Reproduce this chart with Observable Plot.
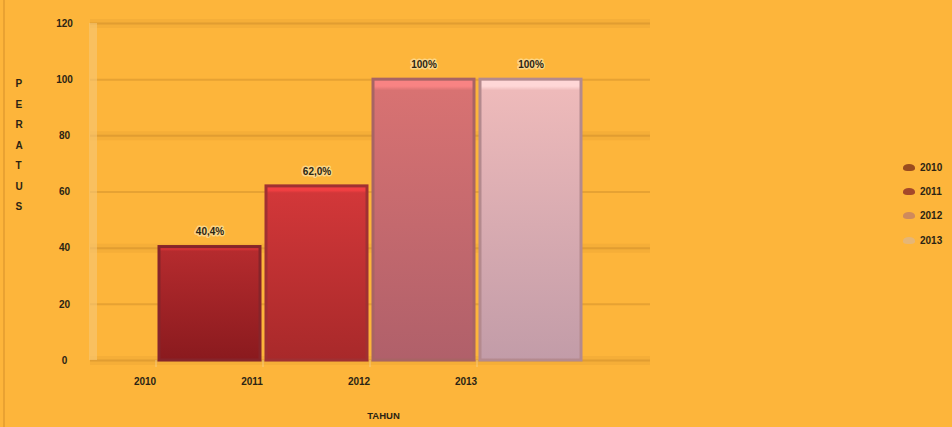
<!DOCTYPE html>
<html>
<head>
<meta charset="utf-8">
<script src="https://cdn.jsdelivr.net/npm/d3@7"></script>
<script src="https://cdn.jsdelivr.net/npm/@observablehq/plot@0.6"></script>
<style>
  html, body { margin: 0; padding: 0; background: #fdb53b; }
  #wrap { position: relative; width: 952px; height: 427px; overflow: hidden; background: #fdb53b; }
  #edge { position: absolute; left: 3px; top: 0; width: 2px; height: 427px; background: #e9a232; }
  #legend { position: absolute; left: 903px; top: 155px; font: 600 10px "Liberation Sans", Arial, sans-serif; color: #2b2414; }
  #legend .item { display: flex; align-items: center; height: 24.3px; white-space: nowrap; }
  #legend .sw { display: inline-block; width: 12px; height: 7px; border-radius: 50% 50% 35% 35%; margin-right: 5px; }
</style>
</head>
<body>
<div id="wrap"><div id="edge"></div></div>
<script>
// ---- data ----
const years = ["2010", "2011", "2012", "2013"];
const values = [40.4, 62.0, 100, 100];
const valueLabels = ["40,4%", "62,0%", "100%", "100%"];
const yTicks = [0, 20, 40, 60, 80, 100, 120];
const yTitle = "PERATUS";
const xTitle = "TAHUN";

// ---- styles ----
const barTop = ["#b52b2e", "#d23739", "#d87272", "#eebaba"];
const barBottom = ["#8a1a1e", "#a8292a", "#b0606a", "#c29ca8"];
const barEdge = ["#86242a", "#a03032", "#a86464", "#b48a8e"];
const legendColors = ["#9a4c1e", "#a4482a", "#cf8a5c", "#e6b676"];

const data = years.map((y, i) => ({year: y, value: values[i], label: valueLabels[i], i}));

const marks = [
  Plot.gridY(yTicks.filter((d, i) => i % 2 === 0), {stroke: "#c98a2a", strokeOpacity: 0.14, strokeWidth: 9}),
  Plot.gridY(yTicks, {stroke: "#b87a22", strokeOpacity: 0.32, strokeWidth: 2}),
  Plot.ruleX([years[0]], {x: d => d, y1: 0, y2: 120, dx: -117, stroke: "#f6c878", strokeWidth: 8, strokeOpacity: 0.6}),
  Plot.axisY({ticks: yTicks, tickSize: 0, tickPadding: 26, textAnchor: "middle", label: null,
    fontSize: 10, fontWeight: 600, fill: "#2b2414"}),
  Plot.axisX({tickSize: 0, tickPadding: 17, dx: -65, label: null, fontSize: 10, fontWeight: 600, fill: "#2b2414"}),
  Plot.axisX({tickSize: 7, text: null, dx: -54, label: null, stroke: "#f3d49a", strokeOpacity: 0.7}),
  ...data.map(d => Plot.barY([d], {x: "year", y: "value", fill: `url(#bg${d.i})`,
    stroke: barEdge[d.i], strokeWidth: 3})),
  Plot.text(data, {x: "year", y: "value", text: "label", dy: -15, fontSize: 10, fontWeight: 700,
    fill: "#2b2414", stroke: "#fcd585", strokeWidth: 3}),
  Plot.text([yTitle.split("").join("\n")], {frameAnchor: "left", dx: -75, dy: -50, lineHeight: 2.05,
    fontSize: 10, fontWeight: 700, fill: "#2b2414"}),
  Plot.text([xTitle], {frameAnchor: "bottom", dx: 13, dy: 58, fontSize: 9.5, fontWeight: 600,
    fill: "#2b2414", letterSpacing: "0.5px"})
];

const chart = Plot.plot({
  width: 952,
  height: 427,
  marginTop: 23,
  marginBottom: 67,
  marginLeft: 90,
  marginRight: 302,
  style: {background: "#fdb53b", fontFamily: "'Liberation Sans', Arial, sans-serif"},
  x: {type: "band", domain: years, range: [150.5, 588.2], padding: 0.06, label: null},
  y: {domain: [0, 120], label: null},
  marks
});

// gradients for the bars
const svg = d3.select(chart);
const defs = svg.insert("defs", ":first-child");
years.forEach((y, i) => {
  const g = defs.append("linearGradient").attr("id", `bg${i}`).attr("x1", 0).attr("y1", 0).attr("x2", 0).attr("y2", 1);
  g.append("stop").attr("offset", "0%").attr("stop-color", d3.color(barTop[i]).brighter(0.4));
  g.append("stop").attr("offset", "2.5%").attr("stop-color", d3.color(barTop[i]).brighter(0.4));
  g.append("stop").attr("offset", "4%").attr("stop-color", barTop[i]);
  g.append("stop").attr("offset", "100%").attr("stop-color", barBottom[i]);
});

const wrap = document.getElementById("wrap");
wrap.insertBefore(chart, wrap.firstChild);

// legend
const legend = document.createElement("div");
legend.id = "legend";
years.forEach((y, i) => {
  const item = document.createElement("div");
  item.className = "item";
  const sw = document.createElement("span");
  sw.className = "sw";
  sw.style.background = legendColors[i];
  const t = document.createElement("span");
  t.textContent = y;
  item.appendChild(sw);
  item.appendChild(t);
  legend.appendChild(item);
});
wrap.appendChild(legend);
</script>
</body>
</html>
